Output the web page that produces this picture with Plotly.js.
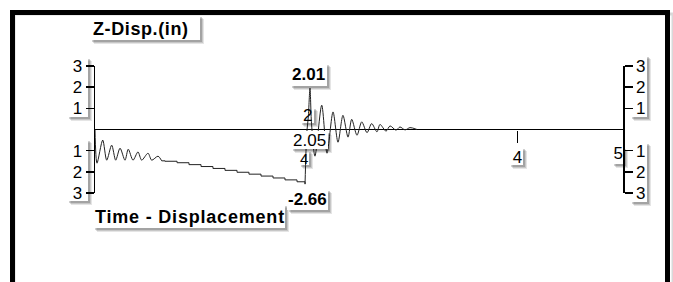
<!DOCTYPE html>
<html>
<head>
<meta charset="utf-8">
<script src="https://cdn.plot.ly/plotly-3.0.1.min.js"></script>
<style>html,body{margin:0;padding:0;background:#fff;}#chart{width:673px;height:282px;}</style>
</head>
<body>
<div id="chart"></div>
<script>
// ---- data (time in s, displacement in inches) ----
var phase1T = [0, 0.019, 0.073, 0.111, 0.158, 0.196, 0.237, 0.284, 0.315, 0.360, 0.407, 0.442, 0.502, 0.537, 0.597, 0.632];
var phase1V = [0, -1.59, -0.50, -1.45, -0.74, -1.45, -0.88, -1.45, -0.93, -1.45, -1.06, -1.45, -1.12, -1.45, -1.26, -1.48];
var stairT = [0.632, 0.663, 0.777, 0.890, 1.004, 1.117, 1.231, 1.345, 1.458, 1.572, 1.686, 1.799, 1.913, 1.989];
var stairV = [-1.48, -1.50, -1.57, -1.66, -1.75, -1.84, -1.93, -2.02, -2.11, -2.20, -2.29, -2.38, -2.47, -2.58];
var phase2T = [1.989, 2.005, 2.02, 2.036, 2.05, 2.083, 2.147, 2.197, 2.254, 2.301, 2.348, 2.396, 2.431, 2.481, 2.526, 2.576, 2.620, 2.670, 2.699, 2.756, 2.794, 2.850, 2.888, 2.936, 2.983, 3.05];
var phase2V = [-2.58, -0.2, 0.6, 1.96, 0.3, -1.26, 1.15, -1.12, 0.83, -0.60, 0.67, -0.36, 0.48, -0.27, 0.36, -0.15, 0.28, -0.11, 0.24, -0.08, 0.17, -0.03, 0.12, -0.02, 0.09, 0];

var yTickVals = [3, 2, 1, -1, -2, -3];
var yTickText = ['3', '2', '1', '1', '2', '3'];
var xTickVals = [4];
var xTickText = ['4'];
var xEndTickVals = [5];
var xEndTickText = ['5'];

var titleText = 'Z-Disp.(in)';
var subtitleText = 'Time - Displacement';
var maxLabel = '2.01';
var minLabel = '-2.66';
var timeLabel = '2.05';

// ---- layout geometry (pixels) ----
var W = 673, H = 282;
var L = 95, R = 50, T = 66, B = 89;
var PW = W - L - R, PH = H - T - B;
function px(x) { return (x - L) / PW; }
function py(y) { return (T + PH - y) / PH; }

var shapes = [];
function box(x0, y0, x1, y1, layer) {
  var offs = [[4, 0.10], [3, 0.13], [2, 0.18]];
  offs.forEach(function (o) {
    shapes.push({type: 'rect', xref: 'paper', yref: 'paper', layer: layer || 'below',
      x0: px(x0 + o[0]), x1: px(x1 + o[0]), y0: py(y0 + o[0]), y1: py(y1 + o[0]),
      fillcolor: 'rgba(0,0,0,' + o[1] + ')', line: {width: 0}});
  });
  shapes.push({type: 'rect', xref: 'paper', yref: 'paper', layer: layer || 'below',
    x0: px(x0), x1: px(x1), y0: py(y0), y1: py(y1),
    fillcolor: '#ffffff', line: {width: 0}});
}
box(90, 15, 200, 40);          // title box
box(93, 204, 285, 228);        // subtitle box
box(67, 57, 88, 117);          // left upper ticks
box(67, 139, 88, 201);         // left lower ticks
box(630, 55, 647, 117);        // right upper ticks
box(630, 142, 647, 202);       // right lower ticks
box(290, 63, 327, 86);         // max label
box(287, 189, 328, 210);       // min label
box(300, 107, 314, 123);       // small "2"
box(299, 150, 309, 165);       // small "4"
box(291, 131, 328, 149, 'above'); // time label
box(509, 147, 523, 165);       // x tick 4
box(612, 147, 624, 164);       // x tick 5

// outer frame
shapes.push({type: 'rect', xref: 'paper', yref: 'paper', layer: 'above',
  x0: px(14), x1: px(673), y0: py(14), y1: py(300),
  fillcolor: 'rgba(0,0,0,0)', line: {color: 'rgba(0,0,0,0.15)', width: 3}});
shapes.push({type: 'rect', xref: 'paper', yref: 'paper', layer: 'above',
  x0: px(12.5), x1: px(667.5), y0: py(12.5), y1: py(300),
  fillcolor: 'rgba(0,0,0,0)', line: {color: '#000', width: 5}});

var ann = [];
function label(text, x, y, size, bold, spacing) {
  var t = spacing ? '<span style="letter-spacing:' + spacing + 'px">' + text + '</span>' : text;
  ann.push({xref: 'paper', yref: 'paper', x: px(x), y: py(y), text: bold ? '<b>' + t + '</b>' : t,
    showarrow: false, xanchor: 'center', yanchor: 'middle',
    font: {family: 'Liberation Sans, Arial, sans-serif', size: size, color: '#000'}});
}
label(titleText, 141, 29, 18, true, 0.6);
label(subtitleText, 190, 217, 18, true, 0.8);
label(maxLabel, 308, 74, 17, true);
label(minLabel, 307, 199, 17, true);
label('2', 307, 115, 17, false);
label('4', 304, 158, 15, false);
label(timeLabel, 309, 140, 17, false);

var lineStyle = {color: '#222', width: 1, shape: 'spline', smoothing: 0.8};
var traces = [
  {x: phase1T, y: phase1V, type: 'scatter', mode: 'lines', line: lineStyle, hoverinfo: 'skip'},
  {x: stairT, y: stairV, type: 'scatter', mode: 'lines', line: {color: '#222', width: 1, shape: 'hv'}, hoverinfo: 'skip'},
  {x: phase2T, y: phase2V, type: 'scatter', mode: 'lines', line: lineStyle, hoverinfo: 'skip'},
  {x: [5], y: [0], xaxis: 'x2', yaxis: 'y2', type: 'scatter', mode: 'markers', marker: {opacity: 0}, hoverinfo: 'skip'}
];

var tickFont = {family: 'Liberation Sans, Arial, sans-serif', size: 17, color: '#000'};
var layout = {
  width: W, height: H,
  margin: {l: L, r: R, t: T, b: B, pad: 0},
  paper_bgcolor: '#fff', plot_bgcolor: 'rgba(0,0,0,0)',
  showlegend: false,
  xaxis: {range: [0, 5], anchor: 'free', position: 0.5, showgrid: false, zeroline: false,
    showline: false, ticks: 'outside', ticklen: 12, tickwidth: 1.5, tickcolor: '#000',
    tickvals: xTickVals, ticktext: xTickText, tickfont: tickFont, fixedrange: true},
  xaxis2: {range: [0, 5], overlaying: 'x', anchor: 'free', position: 0.5, showgrid: false, zeroline: false,
    showline: false, ticks: '', ticklabelstandoff: 11, tickvals: xEndTickVals, ticktext: xEndTickText,
    ticklabelposition: 'outside left', tickfont: tickFont, fixedrange: true},
  yaxis: {range: [-3, 3], showgrid: false, zeroline: true, zerolinecolor: '#000', zerolinewidth: 1.5,
    showline: true, linecolor: '#000', linewidth: 1.5, ticks: 'outside', ticklen: 8, tickwidth: 1.5,
    tickcolor: '#000', tickvals: yTickVals, ticktext: yTickText, tickfont: tickFont, fixedrange: true},
  yaxis2: {range: [-3, 3], overlaying: 'y', side: 'right', anchor: 'x', showgrid: false, zeroline: false,
    showline: true, linecolor: '#000', linewidth: 1.5, ticks: 'outside', ticklen: 8, tickwidth: 1.5,
    tickcolor: '#000', tickvals: yTickVals, ticktext: yTickText, tickfont: tickFont, fixedrange: true},
  shapes: shapes,
  annotations: ann
};
Plotly.newPlot('chart', traces, layout, {staticPlot: true, displayModeBar: false});
</script>
</body>
</html>
